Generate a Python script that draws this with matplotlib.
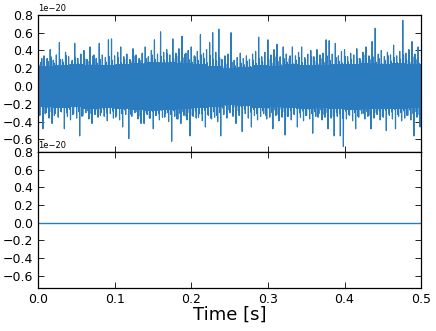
import numpy as np
import matplotlib
matplotlib.use("Agg")
import matplotlib.pyplot as plt

# Envelope of the strain noise (units of 1e-20),
# one upper and one lower extreme per 0.004 s segment.
seg_dt = 0.004
upper = [0.30, 0.27, 0.34, 0.31, 0.41, 0.29, 0.35, 0.49, 0.30, 0.38,
         0.33, 0.28, 0.48, 0.31, 0.36, 0.40, 0.30, 0.44, 0.34, 0.31,
         0.48, 0.35, 0.32, 0.52, 0.53, 0.34, 0.38, 0.44, 0.33, 0.36,
         0.30, 0.42, 0.35, 0.31, 0.37, 0.44, 0.33, 0.40, 0.52, 0.36,
         0.61, 0.38, 0.41, 0.35, 0.53, 0.37, 0.42, 0.56, 0.36, 0.40,
         0.44, 0.34, 0.39, 0.58, 0.37, 0.41, 0.49, 0.60, 0.38, 0.64,
         0.30, 0.34, 0.36, 0.60, 0.29, 0.32, 0.37, 0.31, 0.34, 0.30,
         0.36, 0.39, 0.55, 0.33, 0.38, 0.52, 0.35, 0.41, 0.47, 0.33,
         0.44, 0.36, 0.31, 0.44, 0.34, 0.38, 0.44, 0.32, 0.36, 0.40,
         0.33, 0.41, 0.35, 0.37, 0.52, 0.51, 0.36, 0.48, 0.34, 0.39,
         0.41, 0.33, 0.37, 0.35, 0.42, 0.31, 0.38, 0.44, 0.34, 0.50,
         0.65, 0.36, 0.40, 0.33, 0.38, 0.35, 0.46, 0.34, 0.39, 0.74,
         0.37, 0.41, 0.50, 0.36, 0.44]
lower = [-0.33, -0.48, -0.30, -0.36, -0.42, -0.31, -0.35, -0.29, -0.48, -0.34,
         -0.38, -0.31, -0.36, -0.56, -0.33, -0.30, -0.37, -0.42, -0.32, -0.35,
         -0.30, -0.34, -0.39, -0.31, -0.36, -0.33, -0.38, -0.46, -0.32, -0.59,
         -0.34, -0.30, -0.37, -0.42, -0.42, -0.32, -0.36, -0.48, -0.33, -0.38,
         -0.35, -0.31, -0.40, -0.62, -0.34, -0.37, -0.42, -0.33, -0.38, -0.56,
         -0.34, -0.36, -0.31, -0.39, -0.46, -0.33, -0.37, -0.35, -0.40, -0.56,
         -0.32, -0.36, -0.30, -0.34, -0.42, -0.33, -0.51, -0.31, -0.36, -0.46,
         -0.33, -0.38, -0.34, -0.31, -0.37, -0.35, -0.48, -0.33, -0.39, -0.35,
         -0.55, -0.34, -0.38, -0.32, -0.46, -0.35, -0.39, -0.33, -0.37, -0.53,
         -0.34, -0.31, -0.38, -0.35, -0.48, -0.36, -0.56, -0.34, -0.56, -0.68,
         -0.37, -0.33, -0.39, -0.48, -0.35, -0.31, -0.37, -0.34, -0.48, -0.36,
         -0.32, -0.38, -0.35, -0.50, -0.33, -0.37, -0.48, -0.34, -0.39, -0.36,
         -0.33, -0.38, -0.56, -0.35, -0.46]
# secondary (smaller) excursions per 0.004 s segment
upper2 = [0.24, 0.31, 0.22, 0.28, 0.33, 0.26, 0.21, 0.30, 0.27, 0.34,
          0.23, 0.29, 0.32, 0.25, 0.22, 0.31, 0.28, 0.24, 0.35, 0.26,
          0.30, 0.23, 0.27, 0.33, 0.29, 0.21, 0.32, 0.26, 0.30, 0.24,
          0.28, 0.34, 0.25, 0.29, 0.22, 0.31, 0.27, 0.35, 0.30, 0.26,
          0.33, 0.29, 0.36, 0.27, 0.31, 0.34, 0.28, 0.32, 0.37, 0.30,
          0.27, 0.33, 0.29, 0.35, 0.31, 0.26, 0.34, 0.30, 0.28, 0.32,
          0.22, 0.25, 0.20, 0.27, 0.23, 0.21, 0.26, 0.24, 0.28, 0.22,
          0.29, 0.25, 0.31, 0.27, 0.23, 0.30, 0.26, 0.33, 0.28, 0.24,
          0.31, 0.27, 0.34, 0.25, 0.29, 0.32, 0.26, 0.30, 0.23, 0.33,
          0.28, 0.25, 0.31, 0.27, 0.34, 0.29, 0.24, 0.32, 0.28, 0.26,
          0.33, 0.27, 0.30, 0.24, 0.31, 0.28, 0.35, 0.26, 0.30, 0.33,
          0.27, 0.31, 0.25, 0.29, 0.34, 0.28, 0.32, 0.26, 0.30, 0.35,
          0.29, 0.27, 0.33, 0.30, 0.26]
lower2 = [-0.27, -0.22, -0.31, -0.25, -0.29, -0.33, -0.24, -0.28, -0.21, -0.30,
          -0.26, -0.32, -0.23, -0.29, -0.34, -0.25, -0.28, -0.31, -0.22, -0.27,
          -0.33, -0.26, -0.30, -0.24, -0.28, -0.35, -0.25, -0.31, -0.27, -0.23,
          -0.32, -0.26, -0.29, -0.34, -0.27, -0.30, -0.36, -0.28, -0.33, -0.31,
          -0.27, -0.35, -0.30, -0.32, -0.28, -0.37, -0.31, -0.29, -0.34, -0.30,
          -0.33, -0.28, -0.35, -0.31, -0.27, -0.32, -0.36, -0.29, -0.33, -0.30,
          -0.25, -0.22, -0.27, -0.21, -0.24, -0.28, -0.23, -0.26, -0.22, -0.29,
          -0.26, -0.31, -0.24, -0.28, -0.33, -0.25, -0.30, -0.27, -0.32, -0.26,
          -0.29, -0.34, -0.27, -0.31, -0.25, -0.30, -0.28, -0.33, -0.26, -0.31,
          -0.29, -0.35, -0.27, -0.32, -0.30, -0.26, -0.34, -0.29, -0.31, -0.36,
          -0.28, -0.32, -0.26, -0.30, -0.34, -0.27, -0.31, -0.29, -0.33, -0.25,
          -0.30, -0.28, -0.34, -0.27, -0.31, -0.29, -0.26, -0.32, -0.30, -0.28,
          -0.33, -0.27, -0.31, -0.29, -0.32]
# edge of the solid core band, read per 0.02 s block (units of 1e-20)
core_top = [0.22, 0.23, 0.24, 0.23, 0.23, 0.24, 0.25, 0.26, 0.26, 0.25,
            0.24, 0.22, 0.19, 0.21, 0.23, 0.22, 0.24, 0.23, 0.23, 0.24,
            0.24, 0.25, 0.24, 0.25, 0.24]
core_bot = [-0.23, -0.24, -0.23, -0.25, -0.24, -0.25, -0.26, -0.27, -0.26, -0.25,
            -0.24, -0.23, -0.20, -0.22, -0.24, -0.23, -0.24, -0.25, -0.24, -0.25,
            -0.26, -0.25, -0.25, -0.25, -0.24]
scale = 1e-20

# bottom panel: flat zero signal
flat_t = [0.0, 0.5]
flat_v = [0.0, 0.0]

x_ticks = [0.0, 0.1, 0.2, 0.3, 0.4, 0.5]
y_ticks = [-0.6, -0.4, -0.2, 0.0, 0.2, 0.4, 0.6, 0.8]
xlabel = "Time [s]"

color = "#2b7bbf"

# Build the drawn trace from the read extremes of each segment
ts, vs = [], []
per_block = int(round(0.02 / seg_dt))
for i in range(len(upper)):
    ct = core_top[i // per_block]
    cb = core_bot[i // per_block]
    seq = [upper[i], cb, upper2[i], lower2[i], ct, lower[i], ct, cb]
    for k, val in enumerate(seq):
        ts.append(i * seg_dt + k * seg_dt / len(seq))
        vs.append(val * scale)

plt.rcParams['font.family'] = ['DejaVu Sans']
fig = plt.figure(figsize=(4.36, 3.31), dpi=100)
ax1 = fig.add_axes([0.087, 0.541, 0.879, 0.414])
ax2 = fig.add_axes([0.087, 0.130, 0.879, 0.411], sharex=ax1)

ax1.plot(ts, vs, color=color, lw=0.85)
ax2.plot(flat_t, flat_v, color=color, lw=1.0)

for ax in (ax1, ax2):
    ax.set_xlim(0, 0.5)
    ax.set_ylim(-0.74e-20, 0.8e-20)
    ax.set_yticks([y * scale for y in y_ticks])
    ax.ticklabel_format(axis='y', style='sci', scilimits=(-20, -20))
    ax.tick_params(direction='in', top=True, right=True, labelsize=9,
                   length=4, width=0.6)
    ax.yaxis.get_offset_text().set_fontsize(6)
    for s in ax.spines.values():
        s.set_linewidth(0.9)
ax1.tick_params(labelbottom=False)
ax2.set_xticks(x_ticks)
ax2.set_xticklabels([f"{x:.1f}" for x in x_ticks])
ax2.set_xlabel(xlabel, fontsize=13, labelpad=0)

fig.savefig("out.png", dpi=100)
